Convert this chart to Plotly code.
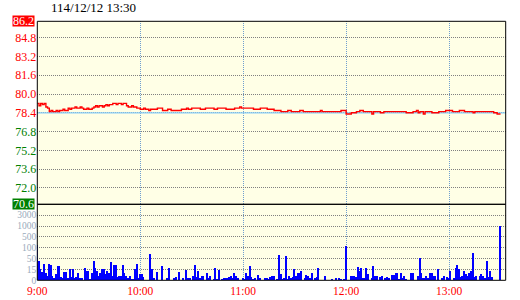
import numpy as np
import plotly.graph_objects as go

title_text = "114/12/12 13:30"
ref_price = 78.4
price_ticks = [86.2, 84.8, 83.2, 81.6, 80.0, 78.4, 76.8, 75.2, 73.6, 72.0, 70.6]
price_tick_text = ["", "84.8", "83.2", "81.6", "80.0", "78.4", "76.8", "75.2", "73.6", "72.0", ""]
time_range = [0, 273]
time_tick_minutes = [0, 60, 120, 180, 240]
time_tick_labels = ["9:00", "10:00", "11:00", "12:00", "13:00"]
vol_tick_values = [0, 15, 50, 100, 500, 1000, 3000, 6000]
vol_tick_labels = ["0", "15", "50", "100", "500", "1000", "3000"]

# price change points (minutes after 9:00, price)
price_minutes = [0, 1, 2, 3, 4, 5, 6, 7, 8, 9, 11, 12, 13, 15, 16, 18, 19, 20, 22, 23,
                 25, 26, 27, 29, 30, 32, 33, 34, 35, 36, 38, 39, 40, 41, 42, 44, 46, 47, 49, 50,
                 52, 53, 55, 56, 58, 60, 62, 63, 65, 66, 70, 73, 76, 78, 84, 87, 88, 90, 95, 98,
                 103, 105, 110, 115, 118, 119, 126, 130, 134, 138, 140, 142, 146, 148, 153, 155, 165, 166, 177, 180,
                 183, 186, 188, 190, 195, 196, 200, 202, 215, 219, 221, 222, 223, 225, 226, 230, 234, 238, 242, 246,
                 249, 254, 255, 266, 268, 270]
price_values = [79.2, 79.0, 79.2, 79.1, 79.2, 78.9, 78.8, 78.5, 78.6, 78.5, 78.6, 78.5, 78.6, 78.7, 78.6, 78.8, 78.7, 78.8, 78.9, 78.8,
                78.9, 78.8, 78.7, 78.8, 78.7, 78.8, 78.9, 79.0, 78.9, 79.0, 78.9, 79.0, 79.1, 79.0, 79.1, 79.2, 79.1, 79.2, 79.1, 79.2,
                79.0, 78.9, 79.0, 78.9, 78.8, 78.7, 78.8, 78.7, 78.6, 78.7, 78.8, 78.6, 78.7, 78.6, 78.7, 78.8, 78.7, 78.8, 78.7, 78.8,
                78.7, 78.8, 78.7, 78.8, 78.9, 78.8, 78.7, 78.8, 78.7, 78.6, 78.6, 78.5, 78.6, 78.5, 78.6, 78.5, 78.6, 78.5, 78.6, 78.3,
                78.4, 78.5, 78.6, 78.5, 78.3, 78.5, 78.4, 78.5, 78.4, 78.5, 78.6, 78.4, 78.5, 78.3, 78.5, 78.4, 78.5, 78.6, 78.5, 78.6,
                78.5, 78.4, 78.5, 78.4, 78.3, 78.3]

# volume per minute (only minutes with trades)
vol_minutes = [0, 1, 2, 3, 4, 5, 6, 7, 8, 9, 10, 11, 12, 13, 14, 15, 16, 17, 18, 19,
               20, 21, 22, 23, 24, 25, 26, 28, 29, 30, 31, 32, 33, 34, 35, 36, 37, 38, 39, 40,
               41, 42, 43, 44, 45, 46, 47, 48, 49, 50, 51, 52, 53, 54, 55, 56, 57, 58, 59, 60,
               61, 62, 66, 67, 68, 70, 73, 76, 77, 80, 81, 83, 85, 87, 88, 89, 91,
               92, 93, 94, 95, 96, 97, 99, 100, 101, 103, 104, 105, 106, 108, 109, 110, 111, 112, 113,
               114, 115, 116, 117, 120, 121, 122, 123, 124, 125, 126, 127, 129, 130, 133, 134, 135, 136, 137, 138,
               140, 141, 142, 143, 144, 145, 146, 147, 148, 149, 150, 151, 152, 153, 154, 156, 157, 158, 159, 160,
               162, 163, 164, 168, 172, 174, 176, 177, 179, 180,
               183, 184, 185, 186, 187, 188, 189, 190, 191, 192, 193, 195, 196, 197, 198, 200, 201, 203, 204, 205,
               207, 208, 209, 210, 211, 212, 213, 214, 215, 218, 219, 222, 223, 224, 225, 226, 227, 228, 229, 230,
               231, 232, 234, 236, 237, 239, 240, 241, 243, 244, 245, 246, 247, 248, 249, 250, 251, 252, 253, 254,
               255, 256, 258, 259, 260, 261, 262, 263, 264, 265, 270]
vol_values = [185, 41, 17, 11, 31, 10, 6, 33, 29, 5, 3, 8, 26, 26, 4, 2, 11, 11, 2, 17,
              4, 17, 2, 4, 9, 2, 2, 20, 13, 12, 1, 10, 41, 20, 12, 6, 9, 17, 17, 8,
              12, 9, 39, 6, 29, 27, 4, 5, 6, 29, 9, 6, 2, 6, 1, 1, 17, 32, 2, 8,
              8, 4, 70, 17, 2, 11, 26, 3, 18, 3, 4, 11, 2, 14, 3, 3, 6,
              29, 4, 12, 2, 5, 5, 10, 2, 6, 1, 20, 1, 14, 1, 2, 2, 2, 4, 5,
              2, 10, 5, 2, 2, 1, 10, 6, 24, 4, 1, 2, 7, 2, 2, 2, 1, 4, 5, 6,
              1, 65, 8, 1, 2, 60, 1, 5, 2, 4, 16, 5, 10, 10, 13, 2, 7, 5, 2, 9,
              2, 4, 18, 5, 1, 2, 2, 1, 1, 150,
              6, 5, 6, 4, 23, 12, 18, 2, 2, 18, 8, 2, 26, 5, 6, 4, 6, 2, 4, 2,
              7, 7, 9, 9, 1, 10, 2, 5, 1, 10, 9, 5, 50, 10, 2, 2, 6, 2, 10, 10,
              6, 6, 17, 2, 6, 4, 2, 12, 2, 18, 29, 17, 4, 5, 12, 8, 5, 9, 12, 74,
              4, 6, 5, 8, 6, 2, 41, 4, 12, 4, 1000]

vol_pos = np.interp(vol_values, vol_tick_values, list(range(len(vol_tick_values))))

W, H = 520, 300
x0, x1 = 37.3, 505.7
y_top, y_mid, y_bot = 21.3, 204.3, 280.3

fig = go.Figure()
fig.add_trace(go.Bar(x=vol_minutes, y=vol_pos, width=0.6, marker=dict(color="#0000FF", line=dict(width=0)),
                     xaxis="x", yaxis="y2", hoverinfo="skip"))
# reference (previous close) line
fig.add_trace(go.Scatter(x=time_range, y=[ref_price, ref_price], mode="lines",
                         line=dict(color="#87CEFA", width=1.3), xaxis="x", yaxis="y", hoverinfo="skip"))
fig.add_trace(go.Scatter(x=price_minutes, y=price_values, mode="lines",
                         line=dict(color="#FF0000", width=1.4, shape="hv"),
                         xaxis="x", yaxis="y", hoverinfo="skip"))

green = "#008000"
tick_text_colored = []
for v, t in zip(price_ticks, price_tick_text):
    if t and v < ref_price:
        tick_text_colored.append('<span style="color:%s">%s</span>' % (green, t))
    else:
        tick_text_colored.append(t)

fig.update_layout(
    width=W, height=H,
    margin=dict(l=0, r=0, t=0, b=0, autoexpand=False),
    paper_bgcolor="white",
    plot_bgcolor="#FFFFE6",
    showlegend=False,
    bargap=0,
    font=dict(family="Liberation Serif", size=12, color="black"),
    xaxis=dict(domain=[x0 / W, x1 / W], anchor="y2", range=time_range, automargin=False,
               tickvals=time_tick_minutes, ticktext=time_tick_labels,
               tickfont=dict(color="#FF0000", size=11.5, family="Liberation Serif"),
               ticklabelstandoff=2,
               showgrid=True, gridcolor="#6F9FD0", griddash="1px,1px", gridwidth=1,
               zeroline=False, showline=False, ticks=""),
    yaxis=dict(domain=[(H - y_mid) / H, (H - y_top) / H], anchor="x", range=[70.6, 86.2], automargin=False,
               tickvals=price_ticks, ticktext=tick_text_colored,
               tickfont=dict(color="#FF0000", size=12, family="Liberation Serif"),
               showgrid=True, gridcolor="#808080", griddash="1px,1px", gridwidth=1,
               zeroline=False, showline=False, ticks=""),
    yaxis2=dict(domain=[(H - y_bot) / H, (H - y_mid) / H], anchor="x", range=[0, 7], automargin=False,
                tickvals=list(range(len(vol_tick_labels))), ticktext=vol_tick_labels,
                tickfont=dict(color="#9AAABB", size=9.5, family="Liberation Serif"),
                showgrid=True, gridcolor="#808080", griddash="1px,1px", gridwidth=1,
                zeroline=False, showline=False, ticks=""),
)

# panel borders
fig.add_shape(type="rect", xref="x domain", x0=0, x1=1, yref="y domain", y0=0, y1=1,
              line=dict(color="black", width=1), layer="above")
fig.add_shape(type="rect", xref="x domain", x0=0, x1=1, yref="y2 domain", y0=0, y1=1,
              line=dict(color="black", width=1), layer="above")

# limit-up / limit-down boxed labels
for val, bg in [(86.2, "#FF0000"), (70.6, green)]:
    fig.add_annotation(xref="paper", x=34.8 / W, xanchor="right", yref="y", y=val, yanchor="middle",
                       text="%.1f" % val, showarrow=False, bgcolor=bg, borderpad=0,
                       width=21, height=10, font=dict(color="white", size=12, family="Liberation Serif"))

fig.add_annotation(xref="paper", x=49 / W, xanchor="left", yref="paper", y=(H - 7.5) / H, yanchor="middle",
                   text=title_text, showarrow=False, font=dict(color="black", size=13, family="Liberation Serif"))

fig.write_html("out.html")
